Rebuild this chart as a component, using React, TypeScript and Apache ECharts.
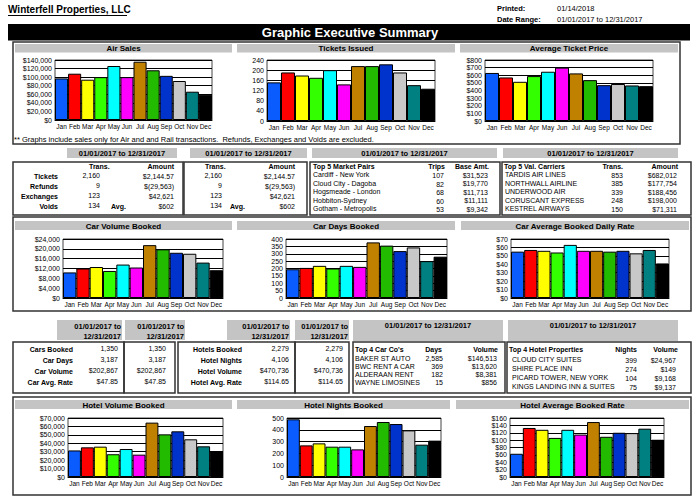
import React, { useEffect, useRef } from "react";
import * as echarts from "echarts";

// ---------- DATA ----------
const months = ["Jan", "Feb", "Mar", "Apr", "May", "Jun", "Jul", "Aug", "Sep", "Oct", "Nov", "Dec"];
const barColors = ["#0a5cff", "#ff0000", "#ffff00", "#33ff00", "#00ffff", "#ff00ff", "#c08000", "#22bb00", "#0033cc", "#c8c8c8", "#008080", "#000000"];

const airSales = [97000, 108000, 94000, 100000, 126000, 100000, 136000, 116000, 103000, 91000, 66000, 59000];
const ticketsIssued = [152, 191, 179, 170, 200, 144, 216, 216, 223, 191, 141, 127];
const avgTicketPrice = [630, 571, 514, 589, 646, 700, 624, 536, 470, 485, 466, 457];
const carVolume = [10400, 12000, 12600, 11000, 13600, 12400, 21500, 19800, 18400, 18000, 14400, 11300];
const carDays = [195, 204, 218, 200, 218, 211, 377, 355, 318, 343, 250, 280];
const carAvgRate = [55, 57, 56, 54, 63, 56, 56, 55, 56, 53, 57, 41];
const hotelVolume = [31500, 35200, 36000, 27000, 33200, 26500, 64500, 50600, 54200, 44700, 36400, 30500];
const hotelNights = [489, 268, 285, 257, 257, 234, 432, 466, 449, 395, 274, 308];
const hotelAvgRate = [63, 133, 128, 106, 128, 115, 149, 109, 120, 119, 131, 101];

const chartTitles = ["Air Sales", "Tickets Issued", "Average Ticket Price", "Car Volume Booked", "Car Days Booked", "Car Average Booked Daily Rate", "Hotel Volume Booked", "Hotel Nights Booked", "Hotel Average Booked Rate"];
const chartData = [airSales, ticketsIssued, avgTicketPrice, carVolume, carDays, carAvgRate, hotelVolume, hotelNights, hotelAvgRate];
const axisMax = [140000, 240, 800, 24000, 400, 70, 70000, 500, 160];
const axisInterval = [20000, 40, 100, 4000, 50, 10, 10000, 100, 20];
const axisMoney = [true, false, true, true, false, true, true, false, true];

const companyName = "Winterfell Properties, LLC";
const printedDate = "01/14/2018";
const dateRange = "01/01/2017 to 12/31/2017";
const reportTitle = "Graphic Executive Summary";
const footNote = "** Graphs include sales only for Air and and Rail transactions.  Refunds, Exchanges and Voids are excluded.";

const summaryLabels = ["Tickets", "Refunds", "Exchanges", "Voids"];
const summaryTrans = ["2,160", "9", "123", "134"];
const summaryAmounts = ["$2,144.57", "$(29,563)", "$42,621", "$602"];
const avgLabel = "Avg.";

const marketPairs = ["Cardiff - New York", "Cloud City - Dagoba", "Hogsmeade - London", "Hobbiton-Sydney", "Gotham - Metropolis"];
const marketTrips = ["107", "82", "68", "60", "53"];
const marketBase = ["$31,523", "$19,770", "$11,713", "$11,111", "$9,342"];

const carriers = ["TARDIS AIR LINES", "NORTHWALL AIRLINE", "UNDERWOOD AIR", "CORUSCANT EXPRESS", "KESTREL AIRWAYS"];
const carrierTrans = ["853", "385", "339", "248", "150"];
const carrierAmounts = ["$682,012", "$177,754", "$188,456", "$198,000", "$71,311"];

const carLabels = ["Cars Booked", "Car Days", "Car Volume", "Car Avg. Rate"];
const carValues = ["1,350", "3,187", "$202,867", "$47.85"];
const hotelLabels = ["Hotels Booked", "Hotel Nights", "Hotel Volume", "Hotel Avg. Rate"];
const hotelValues = ["2,279", "4,106", "$470,736", "$114.65"];

const carCos = ["BAKER ST AUTO", "BWC RENT A CAR", "ALDERAAN RENT", "WAYNE LIMOSINES"];
const carCoDays = ["2,585", "369", "182", "15"];
const carCoVolume = ["$146,513", "$13,620", "$8,381", "$856"];

const hotelProps = ["CLOUD CITY SUITES", "SHIRE PLACE INN", "PICARD TOWER, NEW YORK", "KINGS LANDING INN & SUITES"];
const hotelPropNights = ["399", "274", "104", "75"];
const hotelPropVolume = ["$24,967", "$149", "$9,168", "$9,137"];

// ---------- LAYOUT ----------
const FONT = "'Liberation Sans', Arial, Helvetica, sans-serif";
const HEAD_GRAY = "#c4c4c4";
const BOX = "#333";

const headerRects = [
  [15, 44, 217, 8.5], [237, 44, 218, 8.5], [460, 44, 218, 8.5],
  [15, 221, 217, 9], [237, 221, 218, 9], [461, 221, 228, 9],
  [15, 400, 217, 9], [237, 400, 213, 9], [456, 400, 233, 9],
];
const gridRects = [
  [55, 60, 157, 60], [267, 60, 168, 61], [485, 60, 168, 61],
  [63, 239, 160, 59], [286, 239, 161, 59], [511, 239, 158, 59],
  [68, 418, 155, 59], [287, 418, 154, 59], [510, 418, 154, 59],
];

function txt(x: number, y: number, text: string, o: any = {}) {
  return {
    type: "text",
    x,
    y,
    z: 100,
    silent: true,
    style: {
      text,
      fill: o.fill || "#000000",
      fontSize: o.size || 7,
      fontWeight: o.bold ? "bold" : "normal",
      fontFamily: FONT,
      align: o.align || "left",
      verticalAlign: "middle",
    },
  };
}
function rect(x: number, y: number, w: number, h: number, fill: string, stroke?: string, lw = 1) {
  return {
    type: "rect",
    z: 50,
    silent: true,
    shape: { x, y, width: w, height: h },
    style: { fill: fill, stroke: stroke || null, lineWidth: lw },
  };
}
function line(x1: number, y1: number, x2: number, y2: number, stroke = "#000", lw = 1) {
  return { type: "line", z: 60, silent: true, shape: { x1, y1, x2, y2 }, style: { stroke, lineWidth: lw } };
}

function buildGraphics() {
  const g: any[] = [];
  // page header
  g.push(txt(8, 9, companyName, { bold: true, size: 10 }));
  g.push(line(8, 15.5, 127, 15.5, "#000", 1));
  g.push(txt(497, 8, "Printed:", { bold: true, size: 7.5 }));
  g.push(txt(557, 8, printedDate, { size: 7.5 }));
  g.push(txt(497, 19, "Date Range:", { bold: true, size: 7.5 }));
  g.push(txt(557, 19, dateRange, { size: 7.5 }));
  g.push(rect(8, 24, 682, 16.5, "#000"));
  g.push(txt(350, 32.5, reportTitle, { bold: true, size: 13, fill: "#fff", align: "center" }));

  // section boxes
  g.push(rect(13, 42, 667, 102, "none", BOX, 1.5));
  g.push(rect(13, 217, 678, 94, "none", BOX, 1.5));
  g.push(rect(13, 397, 678, 98, "none", BOX, 1.5));

  // chart headers
  headerRects.forEach((r, i) => {
    g.push(rect(r[0], r[1], r[2], r[3], HEAD_GRAY));
    g.push(txt(r[0] + r[2] / 2, r[1] + r[3] / 2 + 0.5, chartTitles[i], { bold: true, size: 8, align: "center" }));
  });
  g.push(txt(14, 139, footNote, { size: 7.5, fill: "#000000" }));

  // ---- table row 1 ----
  const h1 = [[67, 148, 110, 10], [190, 148, 117, 10], [312, 148, 185, 10], [503, 148, 175, 10]];
  h1.forEach((r) => {
    g.push(rect(r[0], r[1], r[2], r[3], HEAD_GRAY));
    g.push(txt(r[0] + r[2] / 2, r[1] + r[3] / 2 + 0.5, dateRange, { bold: true, size: 7.5, align: "center" }));
  });
  [[13, 162, 170, 53], [184, 162, 123, 53], [310, 162, 190, 53], [502, 162, 189, 53]].forEach((r) =>
    g.push(rect(r[0], r[1], r[2], r[3], "none", BOX, 1.5))
  );
  const r1y = [176, 186, 196, 206];
  // box 1
  g.push(txt(89, 166, "Trans.", { bold: true }));
  g.push(txt(174, 166, "Amount", { bold: true, align: "right" }));
  summaryLabels.forEach((s, i) => {
    g.push(txt(58, r1y[i], s, { bold: true, align: "right" }));
    g.push(txt(100, r1y[i] - 1, summaryTrans[i], { align: "right" }));
    g.push(txt(174, r1y[i], summaryAmounts[i], { align: "right" }));
  });
  g.push(txt(111, 206, avgLabel, { bold: true }));
  // box 2
  g.push(txt(205, 166, "Trans.", { bold: true }));
  g.push(txt(295, 166, "Amount", { bold: true, align: "right" }));
  summaryLabels.forEach((s, i) => {
    g.push(txt(222, r1y[i] - 1, summaryTrans[i], { align: "right" }));
    g.push(txt(295, r1y[i], summaryAmounts[i], { align: "right" }));
  });
  g.push(txt(230, 206, avgLabel, { bold: true }));
  // box 3 market pairs
  const r5y = [174.5, 183, 191.5, 200, 208.5];
  g.push(txt(313, 166, "Top 5 Market Pairs", { bold: true }));
  g.push(txt(445, 166, "Trips", { bold: true, align: "right" }));
  g.push(txt(489, 166, "Base Amt.", { bold: true, align: "right" }));
  marketPairs.forEach((s, i) => {
    g.push(txt(313, r5y[i], s));
    g.push(txt(444, r5y[i] + 1, marketTrips[i], { align: "right" }));
    g.push(txt(488, r5y[i] + 0.5, marketBase[i], { align: "right" }));
  });
  // box 4 carriers
  g.push(txt(504, 166, "Top 5 Val. Carriers", { bold: true }));
  g.push(txt(623, 166, "Trans.", { bold: true, align: "right" }));
  g.push(txt(678, 166, "Amount", { bold: true, align: "right" }));
  carriers.forEach((s, i) => {
    g.push(txt(505, r5y[i], s));
    g.push(txt(623, r5y[i] + 0.5, carrierTrans[i], { align: "right" }));
    g.push(txt(677, r5y[i] + 0.5, carrierAmounts[i], { align: "right" }));
  });

  // ---- table row 2 ----
  const h2 = [[57, 320, 65, 20, 121], [125, 320, 60, 20, 184], [227, 320, 63, 20, 289], [295, 320, 54, 20, 348]];
  h2.forEach((r) => {
    g.push(rect(r[0], r[1], r[2], r[3], HEAD_GRAY));
    g.push(txt(r[4], 326, "01/01/2017 to", { bold: true, size: 7.5, align: "right" }));
    g.push(txt(r[4], 336, "12/31/2017", { bold: true, size: 7.5, align: "right" }));
  });
  [[353, 320, 150, 21], [508, 320, 170, 21]].forEach((r) => {
    g.push(rect(r[0], r[1], r[2], r[3], HEAD_GRAY));
    g.push(txt(r[0] + r[2] / 2, 325, dateRange, { bold: true, size: 7.5, align: "center" }));
  });
  [[13, 342, 111, 51], [124, 342, 51, 51], [178, 342, 117, 51], [295, 342, 54, 51], [353, 342, 152, 51], [507, 342, 184, 51]].forEach((r) =>
    g.push(rect(r[0], r[1], r[2], r[3], "none", BOX, 1.5))
  );
  const r2y = [349, 360, 371, 382];
  carLabels.forEach((s, i) => {
    g.push(txt(73, r2y[i], s, { bold: true, align: "right" }));
    g.push(txt(118, r2y[i] - 1, carValues[i], { align: "right" }));
    g.push(txt(166, r2y[i] - 1, carValues[i], { align: "right" }));
  });
  hotelLabels.forEach((s, i) => {
    g.push(txt(242, r2y[i], s, { bold: true, align: "right" }));
    g.push(txt(289, r2y[i] - 1, hotelValues[i], { align: "right" }));
    g.push(txt(343, r2y[i] - 1, hotelValues[i], { align: "right" }));
  });
  // car cos
  const r4y = [358, 366, 374, 382];
  g.push(txt(355, 349, "Top 4 Car Co's", { bold: true }));
  g.push(txt(442, 349, "Days", { bold: true, align: "right" }));
  g.push(txt(498, 349, "Volume", { bold: true, align: "right" }));
  carCos.forEach((s, i) => {
    g.push(txt(355, r4y[i], s));
    g.push(txt(443, r4y[i], carCoDays[i], { align: "right" }));
    g.push(txt(497, r4y[i], carCoVolume[i], { align: "right" }));
  });
  // hotel props
  const r6y = [359, 368, 377, 386];
  g.push(txt(509, 349, "Top 4 Hotel Properties", { bold: true }));
  g.push(txt(637, 349, "Nights", { bold: true, align: "right" }));
  g.push(txt(678, 349, "Volume", { bold: true, align: "right" }));
  hotelProps.forEach((s, i) => {
    g.push(txt(512, r6y[i], s));
    g.push(txt(637, r6y[i] + 1, hotelPropNights[i], { align: "right" }));
    g.push(txt(676, r6y[i] + 1, hotelPropVolume[i], { align: "right" }));
  });
  return g;
}

function moneyFmt(v: number) {
  return "$" + v.toLocaleString("en-US");
}

function buildOption() {
  const grid: any[] = [];
  const xAxis: any[] = [];
  const yAxis: any[] = [];
  const series: any[] = [];
  chartData.forEach((data, i) => {
    const r = gridRects[i];
    grid.push({ left: r[0], top: r[1], width: r[2], height: r[3], show: true, borderColor: "#444", borderWidth: 1, backgroundColor: "#fff" });
    xAxis.push({
      type: "category",
      gridIndex: i,
      data: months,
      axisLine: { show: true, lineStyle: { color: "#000", width: 1 } },
      axisTick: { show: false },
      axisLabel: { interval: 0, fontSize: 6.5, color: "#000", margin: 3, fontFamily: FONT },
    });
    yAxis.push({
      type: "value",
      gridIndex: i,
      min: 0,
      max: axisMax[i],
      interval: axisInterval[i],
      axisLine: { show: false },
      axisTick: { show: false },
      splitLine: { show: true, lineStyle: { color: "#000", width: 1 } },
      axisLabel: {
        fontSize: 7,
        color: "#000",
        margin: 3,
        fontFamily: FONT,
        formatter: axisMoney[i] ? (v: number) => moneyFmt(v) : (v: number) => String(v),
      },
    });
    series.push({
      type: "bar",
      xAxisIndex: i,
      yAxisIndex: i,
      barCategoryGap: "0%",
      data: data.map((v, j) => ({ value: v, itemStyle: { color: barColors[j] } })),
      itemStyle: { borderColor: "#000", borderWidth: 1 },
      emphasis: { disabled: true },
    });
  });
  return {
    animation: false,
    backgroundColor: "#fff",
    textStyle: { fontFamily: FONT },
    grid,
    xAxis,
    yAxis,
    series,
    graphic: { elements: buildGraphics() },
  };
}

export default function App() {
  const ref = useRef<HTMLDivElement>(null);
  useEffect(() => {
    if (!ref.current) return;
    const chart = echarts.init(ref.current, undefined, { renderer: "svg" });
    chart.setOption(buildOption() as any);
    return () => chart.dispose();
  }, []);
  return <div ref={ref} style={{ position: "fixed", left: 0, top: 0, width: 700, height: 501, background: "#fff" }} />;
}
